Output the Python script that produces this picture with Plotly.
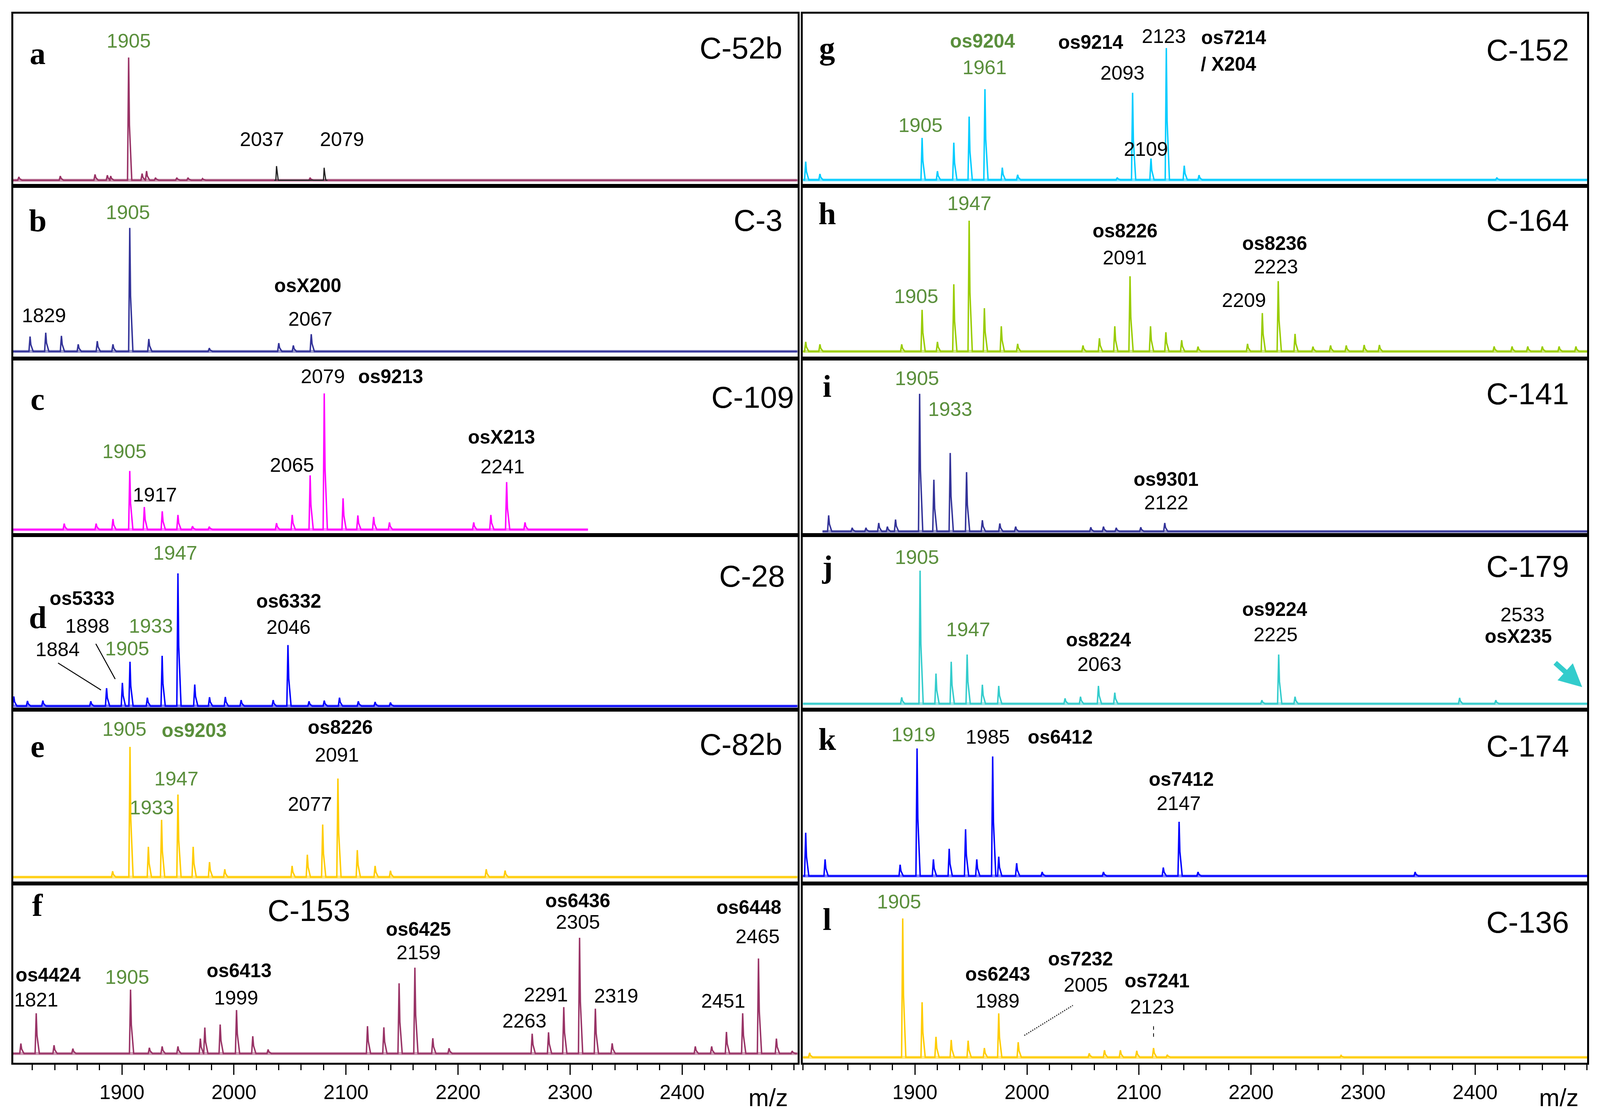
import plotly.graph_objects as go

# peak m/z and height (% of panel height above the baseline)
a_mz = [1808, 1845, 1876, 1887, 1890, 1906, 1918, 1922, 1930, 1949, 1959, 1972, 2068]
a_int = [2, 2.5, 3.5, 3, 2.5, 73.7, 4, 5.5, 1.5, 1.5, 1.5, 1, 1.5]
a_black_mz = [2038, 2080.5]
a_black_int = [8.5, 7.5]

b_mz = [1818, 1832, 1846, 1861, 1878, 1892, 1907, 1924, 1978, 2040, 2053, 2069]
b_int = [9, 11.3, 9.4, 4.3, 6.2, 4.3, 74.6, 7.5, 2, 5, 3.6, 10.4]

c_mz = [1848.5, 1877, 1892, 1907, 1920, 1936, 1950, 1963, 1978, 2038, 2052, 2068, 2080.6,
        2097.4, 2110.6, 2124.7, 2138.8, 2214, 2229.3, 2243.4, 2259.8]
c_int = [3.5, 3.5, 6.2, 34.3, 13.2, 10.7, 8.6, 2, 1.7, 3.8, 8.6, 31.7, 79.6,
         18.3, 8.3, 7.4, 4.2, 4.2, 8.6, 27.8, 4.2]
c_end = 2316

d_mz = [1803.5, 1815.7, 1829.4, 1872.2, 1886.3, 1900.4, 1907.2, 1922.7, 1935.9, 1950, 1965,
        1978.2, 1992.3, 2006.4, 2035, 2048.2, 2067, 2080.6, 2094.2, 2111, 2126, 2139.7]
d_int = [5.6, 3, 3.2, 2.8, 10.5, 13.6, 25.9, 4.9, 29.4, 77.6, 12.6,
         5.2, 5.3, 3.5, 3.5, 35.7, 2.8, 3.2, 4.9, 2.8, 2.4, 2.1]

e_mz = [1891.7, 1907.2, 1923.6, 1935.4, 1950, 1963.6, 1978.2, 1991.8, 2051.9, 2065.5,
        2079.2, 2092.8, 2110.1, 2126, 2139.7, 2225.2, 2242]
e_int = [3.5, 77.8, 18.1, 34.2, 49.3, 18.1, 9, 4.7, 6.7, 13.4,
         31.4, 58.9, 16.1, 6.7, 3.8, 4.7, 3.9]

f_mz = [1809.8, 1823.5, 1839.4, 1856.2, 1907.7, 1924.5, 1935.9, 1950, 1970, 1974, 1987.7,
        2002.3, 2016.8, 2030.5, 2119.2, 2133.8, 2147.4, 2161.5, 2177.5, 2192, 2266.2,
        2280.8, 2294.4, 2308.5, 2322.6, 2337.6, 2411.8, 2426.4, 2439.6, 2454.1, 2468.2,
        2484.2, 2498.3]
f_int = [5.9, 23.7, 4.9, 2.9, 37.6, 3.4, 4.2, 4.2, 8.8, 15.3, 17.1,
         25.6, 10.2, 2.4, 16.1, 15.4, 41.3, 50.5, 9, 3.1, 11.7,
         12.5, 27.3, 68.1, 26.4, 6, 4.2, 4.2, 12.7, 23.7, 55.9,
         8.8, 1.5]

g_mz = [1802.5, 1815.2, 1906.4, 1920.1, 1934.7, 1948.4, 1962.5, 1978, 1991.7, 2080.6,
        2094.3, 2110.7, 2124.4, 2140.4, 2153.6, 2419.4]
g_int = [11, 3.6, 25.3, 5.3, 22.4, 38.1, 54.6, 7.4, 3.1, 1.4,
         52.4, 12.9, 79.3, 8.6, 2.9, 1.4]

h_mz = [1802.5, 1815.2, 1888.2, 1906.4, 1920.1, 1934.7, 1948.4, 1962, 1977.1, 1991.7, 2050,
        2064.7, 2078.4, 2092, 2110.3, 2124, 2138.1, 2152.7, 2196.9, 2210.1, 2224.3, 2239.3,
        2255.3, 2271, 2285, 2301, 2314.6, 2417, 2433, 2447, 2460, 2475, 2490]
h_int = [5.8, 4.3, 4.3, 25.1, 5.8, 40.6, 79, 26.1, 15.2, 4.6, 3.6,
         8, 15.2, 45.4, 15.2, 11.6, 6.8, 2.9, 4.6, 23.2, 42.5, 10.6,
         2.9, 3.6, 3.6, 3.9, 3.9, 3, 3, 3, 3, 3, 3]

i_mz = [1823, 1844, 1856.3, 1867.7, 1875.4, 1882.7, 1904.2, 1916.9, 1931.5, 1946.1, 1960.2,
        1975.8, 1989.9, 2057, 2068.3, 2079.7, 2101.6, 2123]
i_int = [9.3, 2.1, 2.1, 4.9, 2.8, 6.9, 79.6, 29.9, 45.4, 34.3, 6.5,
         4.6, 2.8, 2.4, 2.8, 2.1, 2.4, 4.9]
i_start = 1817.5

j_mz = [1888.2, 1904.6, 1918.8, 1932.4, 1946.6, 1960.2, 1974.8, 2034, 2047.8, 2063.8, 2078.4,
        2209.7, 2224.7, 2239.3, 2386.2, 2418.5]
j_int = [3.8, 78.9, 17.9, 24.9, 29.2, 11.3, 10.6, 3.2, 4.2, 10.6, 6.6,
         2.1, 29.2, 4.2, 3.5, 2.1]

k_mz = [1802.5, 1819.8, 1886.8, 1901.9, 1916.5, 1930.6, 1945.2, 1955.2, 1969.4, 1974.8,
        1990.8, 2013.6, 2068.3, 2121.7, 2135.8, 2152.7, 2346.5]
k_int = [26, 10, 6.8, 76.7, 10, 16.4, 28.1, 10, 71.9, 11.6,
         7.7, 2.4, 2.4, 5.1, 32.6, 2.4, 2.4]

l_mz = [1806, 1889.1, 1906.4, 1918.8, 1932.4, 1947.5, 1962, 1974.8, 1992.2, 2055.6, 2069.2,
        2083.4, 2098, 2113, 2125.3, 2280.4]
l_int = [2.6, 79.9, 31.7, 11.8, 10, 9.6, 5.4, 25.3, 8.7, 2.3, 4.1,
         4.1, 3.8, 5.4, 1.5, 1.1]

tick_vals = [1900, 2000, 2100, 2200, 2300, 2400]

# peak labels: (text, m/z, height, style)  n=plain, g=green, b=bold, gb=green bold
a_labels = [("1905", 1906, 83.6, "g"), ("2037", 2025, 24.6, "n"), ("2079", 2096.5, 24.6, "n")]
b_labels = [("1905", 1905.5, 84, "g"), ("1829", 1830.3, 21.7, "n"),
            ("osX200", 2066, 39.9, "b"), ("2067", 2068.3, 19.6, "n")]
c_labels = [("2079", 2079.2, 89.6, "n"), ("os9213", 2139.7, 89.6, "b"), ("1905", 1902.2, 45.8, "g"),
            ("1917", 1929.5, 20.4, "n"), ("2065", 2051.9, 37.8, "n"), ("osX213", 2238.9, 54.2, "b"),
            ("2241", 2239.8, 36.8, "n")]
d_labels = [("1947", 1947.7, 89.5, "g"), ("os5333", 1864.4, 62.9, "b"), ("1898", 1869, 46.9, "n"),
            ("1933", 1925.9, 46.9, "g"), ("1884", 1842.6, 33.1, "n"), ("1905", 1904.5, 33.6, "g"),
            ("os6332", 2048.7, 61.5, "b"), ("2046", 2048.7, 46.2, "n")]
e_labels = [("1905", 1902.2, 88.4, "g"), ("os9203", 1964.5, 87.6, "gb"), ("os8226", 2095, 89.6, "b"),
            ("2091", 2092, 73.1, "n"), ("1947", 1948.6, 58.9, "g"), ("1933", 1926.8, 41.6, "g"),
            ("2077", 2067.8, 43.6, "n")]
f_labels = [("os4424", 1834, 46.3, "b"), ("1821", 1823.5, 31.7, "n"), ("1905", 1904.5, 44.9, "g"),
            ("os6413", 2004.6, 48.8, "b"), ("1999", 2001.8, 32.9, "n"), ("os6425", 2164.7, 73.2, "b"),
            ("2159", 2164.7, 59.5, "n"), ("os6436", 2306.7, 89.8, "b"), ("2305", 2307.1, 77.4, "n"),
            ("2263", 2259.4, 19.2, "n"), ("2291", 2278.5, 34.6, "n"), ("2319", 2341.3, 33.9, "n"),
            ("os6448", 2459.6, 85.9, "b"), ("2465", 2467.3, 69, "n"), ("2451", 2436.8, 30.9, "n")]
g_labels = [("os9204", 1960.2, 83.6, "gb"), ("1961", 1962, 67.6, "g"), ("os9214", 2056.9, 82.9, "b"),
            ("2123", 2122.1, 86.4, "n"), ("os7214", 2184.6, 85.7, "b"), ("/ X204", 2180, 69.6, "b"),
            ("2093", 2085.2, 64.3, "n"), ("1905", 1905, 32.9, "g"), ("2109", 2106.2, 18.6, "n")]
h_labels = [("1947", 1948.4, 89.4, "g"), ("os8226", 2087.5, 72.9, "b"), ("2091", 2087.5, 56.8, "n"),
            ("os8236", 2221.1, 65.2, "b"), ("2223", 2222.4, 51.2, "n"), ("2209", 2193.7, 30.9, "n"),
            ("1905", 1901, 33.3, "g")]
i_labels = [("1905", 1901.9, 88.5, "g"), ("1933", 1931.5, 70.8, "g"),
            ("os9301", 2124, 30.3, "b"), ("2122", 2124.4, 16.7, "n")]
j_labels = [("1905", 1901.9, 86.9, "g"), ("1947", 1947.5, 44.1, "g"), ("os8224", 2063.8, 38, "b"),
            ("2063", 2064.7, 23.5, "n"), ("os9224", 2221.1, 55.9, "b"), ("2225", 2222, 41.1, "n"),
            ("2533", 2442.2, 52.8, "n"), ("osX235", 2438.6, 40.1, "b")]
k_labels = [("1919", 1898.7, 85.2, "g"), ("1985", 1964.8, 83.6, "n"), ("os6412", 2029.6, 83.6, "b"),
            ("os7412", 2137.6, 58.2, "b"), ("2147", 2135.4, 43.7, "n")]
l_labels = [("1905", 1885.9, 89.6, "g"), ("os6243", 1973.9, 47.9, "b"), ("1989", 1973.5, 32.6, "n"),
            ("os7232", 2047.8, 56.7, "b"), ("2005", 2052.4, 41.7, "n"), ("os7241", 2116.2, 44, "b"),
            ("2123", 2111.6, 29.1, "n")]

W, H = 4406, 2865
K = 0.925  # pixel sizes are scaled to the page the figure fills
GREEN = "#5A8F3C"
SANS = "Liberation Sans, Arial, sans-serif"
SERIF = "Liberation Serif, Times New Roman, serif"

# panel layout: letter, sample, colour, data, labels, bottom of y range,
# letter y, sample-label x / y in the panel
panels = [
    ("a", "C-52b", "#993366", a_mz, a_int, a_labels, -3.4, 0.77, 0.982, 0.80),
    ("b", "C-3", "#333399", b_mz, b_int, b_labels, -4.3, 0.80, 0.982, 0.80),
    ("c", "C-109", "#FF00FF", c_mz, c_int, c_labels, -3.2, 0.77, 0.997, 0.78),
    ("d", "C-28", "#0000FF", d_mz, d_int, d_labels, -2.1, 0.53, 0.985, 0.765),
    ("e", "C-82b", "#FFCC00", e_mz, e_int, e_labels, -3.8, 0.79, 0.982, 0.80),
    ("f", "C-153", "#993366", f_mz, f_int, f_labels, -5.4, 0.88, 0.0, 0.85),
    ("g", "C-152", "#00CCFF", g_mz, g_int, g_labels, -3.6, 0.80, 0.978, 0.79),
    ("h", "C-164", "#99CC00", h_mz, h_int, h_labels, -4.3, 0.84, 0.978, 0.80),
    ("i", "C-141", "#333399", i_mz, i_int, i_labels, -2.1, 0.845, 0.978, 0.80),
    ("j", "C-179", "#33CCCC", j_mz, j_int, j_labels, -3.5, 0.82, 0.978, 0.82),
    ("k", "C-174", "#0000FF", k_mz, k_int, k_labels, -4.5, 0.83, 0.978, 0.79),
    ("l", "C-136", "#FFCC00", l_mz, l_int, l_labels, -3.1, 0.80, 0.978, 0.785),
]

row_px = [27, 468, 910, 1362, 1809, 2254, 2713]
col_dom = [[28 / W, 2196 / W], [2211 / W, 4379 / W]]
col_rng = [[1803, 2503], [1800, 2500]]


def stick_xy(mz, it, x0, x1, lw=1.0, rw=2.8):
    # steep rise, small shoulder and tail on the high-mass side of each peak
    xs, ys = [x0], [0]
    for m, h in sorted(zip(mz, it)):
        xs += [m - lw, m, m + 0.7, m + rw]
        ys += [0, h, 0.45 * h, 0]
    xs.append(x1)
    ys.append(0)
    return xs, ys


fig = go.Figure()
annotations = []
layout = {}

for n, (key, sample, color, mz, it, labels, ylo, let_y, cx, cy) in enumerate(panels):
    col, row = divmod(n, 6)
    sfx = "" if n == 0 else str(n + 1)
    xa, ya = "x" + sfx, "y" + sfx
    x0, x1 = col_rng[col]
    if key == "c":
        x1 = c_end
    if key == "i":
        x0 = i_start
    bottom = row == 5

    xs, ys = stick_xy(mz, it, x0, x1)
    fig.add_trace(go.Scatter(x=[x0, x1], y=[0, 0], mode="lines", xaxis=xa, yaxis=ya,
                             line=dict(color=color, width=8 * K), opacity=0.5,
                             hoverinfo="skip", showlegend=False))
    fig.add_trace(go.Scatter(x=xs, y=ys, mode="lines", xaxis=xa, yaxis=ya,
                             line=dict(color=color, width=4 * K), showlegend=False,
                             hovertemplate="%{x:.0f}<extra>" + sample + "</extra>"))
    if key == "a":
        bx, by = stick_xy(a_black_mz, a_black_int, a_black_mz[0] - 2, a_black_mz[-1] + 3,
                          lw=0.6, rw=1.5)
        fig.add_trace(go.Scatter(x=bx, y=by, mode="lines", xaxis=xa, yaxis=ya,
                                 line=dict(color="#222222", width=3), showlegend=False))

    xdict = dict(domain=col_dom[col], range=col_rng[col], showgrid=False, zeroline=False,
                 showline=True, mirror=True, linecolor="black", linewidth=5 * K,
                 showticklabels=False, ticks="")
    if bottom:
        xdict.update(showticklabels=True, tickvals=tick_vals, ticks="outside", ticklen=26,
                     tickwidth=3, tickcolor="black",
                     tickfont=dict(family=SANS, size=56 * K, color="black"),
                     minor=dict(ticks="outside", ticklen=14, tickwidth=3, tickcolor="black",
                                tick0=1800, dtick=20))
    ydom = [1 - row_px[row + 1] / H, 1 - row_px[row] / H]
    ydict = dict(domain=ydom, range=[ylo, 100], showgrid=False, zeroline=False,
                 showline=True, mirror=True, linecolor="black", linewidth=5 * K,
                 showticklabels=False, ticks="", anchor=xa)
    xdict["anchor"] = ya
    layout["xaxis" + sfx] = xdict
    layout["yaxis" + sfx] = ydict

    # panel letter
    annotations.append(dict(text="<b>" + key + "</b>", xref=xa + " domain", yref=ya + " domain",
                            x=0.031, y=let_y, showarrow=False,
                            font=dict(family=SERIF, size=88 * K, color="black"),
                            xanchor="center", yanchor="middle"))
    # sample name
    if key == "f":
        annotations.append(dict(text=sample, xref=xa + " domain", yref=ya + " domain", x=0.377,
                                y=cy, showarrow=False, xanchor="center", yanchor="middle",
                                font=dict(family=SANS, size=84 * K, color="black")))
    else:
        annotations.append(dict(text=sample, xref=xa + " domain", yref=ya + " domain", x=cx,
                                y=cy, showarrow=False, xanchor="right", yanchor="middle",
                                font=dict(family=SANS, size=84 * K, color="black")))
    for txt, lx, ly, st in labels:
        clr = GREEN if "g" in st else "black"
        txt_html = "<b>" + txt + "</b>" if "b" in st else txt
        size = (53 if "b" in st else 55) * K
        annotations.append(dict(text=txt_html, x=lx, y=ly, xref=xa, yref=ya, showarrow=False,
                                xanchor="center", yanchor="middle",
                                font=dict(family=SANS, size=size, color=clr)))

# leader lines in d and l
for (lx, ly) in [([1843, 1881.3], [25.2, 9.4]), ([1876.7, 1894], [36.4, 15.8])]:
    fig.add_trace(go.Scatter(x=lx, y=ly, mode="lines", xaxis="x4", yaxis="y4",
                             line=dict(color="black", width=2.5), showlegend=False,
                             hoverinfo="skip"))
fig.add_trace(go.Scatter(x=[1997.6, 2041], y=[12.6, 29.9], mode="lines", xaxis="x12", yaxis="y12",
                         line=dict(color="#333333", width=3, dash="dot"), showlegend=False,
                         hoverinfo="skip"))
fig.add_trace(go.Scatter(x=[2113, 2113], y=[17.9, 10.3], mode="lines", xaxis="x12", yaxis="y12",
                         line=dict(color="black", width=2, dash="dash"), showlegend=False,
                         hoverinfo="skip"))

# teal arrow in j
annotations.append(dict(x=2495.6, y=9.9, ax=2471, ay=24.6, xref="x10", yref="y10",
                        axref="x10", ayref="y10", text="", showarrow=True, arrowhead=2,
                        arrowsize=0.9, arrowwidth=13, arrowcolor="#33CCCC"))

# m/z labels
for mx in [0.48, 0.976]:
    annotations.append(dict(text="m/z", xref="paper", yref="paper", x=mx, y=0.022,
                            showarrow=False, xanchor="center", yanchor="middle",
                            font=dict(family=SANS, size=68 * K, color="black")))

fig.update_layout(autosize=True, margin=dict(l=0, r=0, t=0, b=0),
                  paper_bgcolor="white", plot_bgcolor="white",
                  annotations=annotations, showlegend=False, **layout)

fig.write_html("out.html", default_width="100%", default_height="100vh")
